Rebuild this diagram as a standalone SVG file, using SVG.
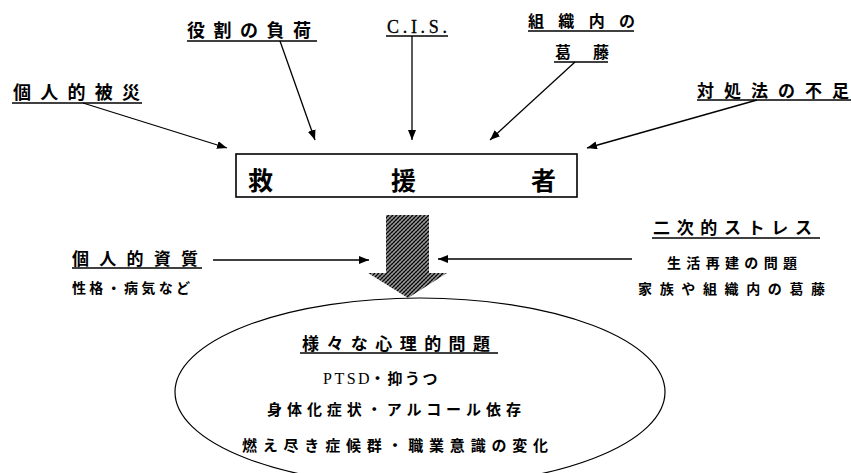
<svg xmlns="http://www.w3.org/2000/svg" width="851" height="473" viewBox="0 0 851 473">
<style>
.lbl{font-family:"Noto Sans CJK JP","Noto Sans CJK SC",sans-serif;font-weight:bold;fill:#000}
.ser{font-family:"Liberation Serif",serif;fill:#000}
.ul{stroke:#000;stroke-width:1.3}
.con{stroke:#000;stroke-width:1.3;fill:none;marker-end:url(#ah)}
</style>
<defs>
<marker id="ah" viewBox="0 0 10 8" refX="10" refY="4" markerWidth="10" markerHeight="8" markerUnits="userSpaceOnUse" orient="auto">
<path d="M0,0 L10,4 L0,8 Z" fill="#000"/>
</marker>
<pattern id="hatch" width="4" height="4" patternUnits="userSpaceOnUse">
<rect width="4" height="4" fill="#999"/>
<path d="M-1,1 L1,-1 M0,4 L4,0 M3,5 L5,3" stroke="#000" stroke-width="1.2"/>
<path d="M0,0 L4,4" stroke="#333" stroke-width="0.5"/>
</pattern>
</defs>
<rect width="851" height="473" fill="#fff"/>

<g id="kojin-hisai">
<text class="lbl" x="13" y="98.5" font-size="18" textLength="127" lengthAdjust="spacing">個人的被災</text>
<line class="ul" x1="12" y1="103" x2="142" y2="103"/>
</g>
<g id="yakuwari">
<text class="lbl" x="187" y="37" font-size="18" textLength="124" lengthAdjust="spacing">役割の負荷</text>
<line class="ul" x1="187" y1="41" x2="317" y2="41"/>
</g>
<g id="cis">
<text class="ser" x="387" y="33" font-size="18" textLength="60" lengthAdjust="spacing" stroke="#000" stroke-width="0.3">C.I.S.</text>
<line class="ul" x1="386" y1="36" x2="448" y2="36"/>
</g>
<g id="soshiki-katto">
<text class="lbl" x="528" y="27" font-size="16" textLength="107" lengthAdjust="spacing">組織内の</text>
<line class="ul" x1="528" y1="31" x2="634" y2="31"/>
<text class="lbl" x="555" y="57.5" font-size="16" textLength="54" lengthAdjust="spacing">葛藤</text>
<line class="ul" x1="554" y1="62" x2="608" y2="62"/>
</g>
<g id="taishoho">
<text class="lbl" x="697" y="96.5" font-size="17" textLength="152" lengthAdjust="spacing">対処法の不足</text>
<line class="ul" x1="697" y1="100" x2="851" y2="100"/>
</g>

<g id="kyuensha">
<rect x="236" y="154" width="341" height="43" fill="#fff" stroke="#000" stroke-width="1.6"/>
<text class="lbl" x="248" y="189.5" font-size="25">救</text>
<text class="lbl" x="391" y="189.5" font-size="25">援</text>
<text class="lbl" x="531" y="189.5" font-size="25">者</text>
</g>

<g id="big-arrow">
<polygon points="386,215 429,215 429,273 447,273 408,298 368,273 386,273" fill="url(#hatch)"/>
</g>

<g id="kojin-shishitsu">
<text class="lbl" x="72" y="265" font-size="17" textLength="126" lengthAdjust="spacing">個人的資質</text>
<line class="ul" x1="72" y1="268" x2="202" y2="268"/>
<text class="lbl" x="72" y="293" font-size="14" textLength="118" lengthAdjust="spacing">性格・病気など</text>
</g>

<g id="niji-stress">
<text class="lbl" x="653" y="234" font-size="17" textLength="159" lengthAdjust="spacing">二次的ストレス</text>
<line class="ul" x1="652" y1="238" x2="820" y2="238"/>
<text class="lbl" x="667" y="267.5" font-size="14" textLength="130" lengthAdjust="spacing">生活再建の問題</text>
<text class="lbl" x="638" y="293.5" font-size="14" textLength="187" lengthAdjust="spacing">家族や組織内の葛藤</text>
</g>

<g id="shinri-mondai">
<ellipse cx="420" cy="392" rx="245" ry="94" fill="none" stroke="#000" stroke-width="1.2"/>
<text class="lbl" x="302" y="349.5" font-size="17" textLength="188" lengthAdjust="spacing">様々な心理的問題</text>
<line class="ul" x1="300" y1="353" x2="498" y2="353"/>
<text x="323" y="384" font-size="15"><tspan class="ser" font-size="16" letter-spacing="2.5">PTSD</tspan><tspan class="lbl" x="370" letter-spacing="2.5">・抑うつ</tspan></text>
<text class="lbl" x="267" y="415" font-size="15" textLength="254" lengthAdjust="spacing">身体化症状・アルコール依存</text>
<text class="lbl" x="242" y="451" font-size="15" textLength="306" lengthAdjust="spacing">燃え尽き症候群・職業意識の変化</text>
</g>

<g id="connectors">
<line class="con" x1="83" y1="103" x2="227" y2="148"/>
<line class="con" x1="280" y1="41" x2="315" y2="140"/>
<line class="con" x1="412" y1="36" x2="412" y2="140"/>
<line class="con" x1="575" y1="62" x2="490" y2="140"/>
<line class="con" x1="757" y1="100" x2="587" y2="148"/>
<line class="con" x1="213" y1="260" x2="369" y2="260"/>
<line class="con" x1="632" y1="259" x2="438" y2="259"/>
</g>
</svg>
